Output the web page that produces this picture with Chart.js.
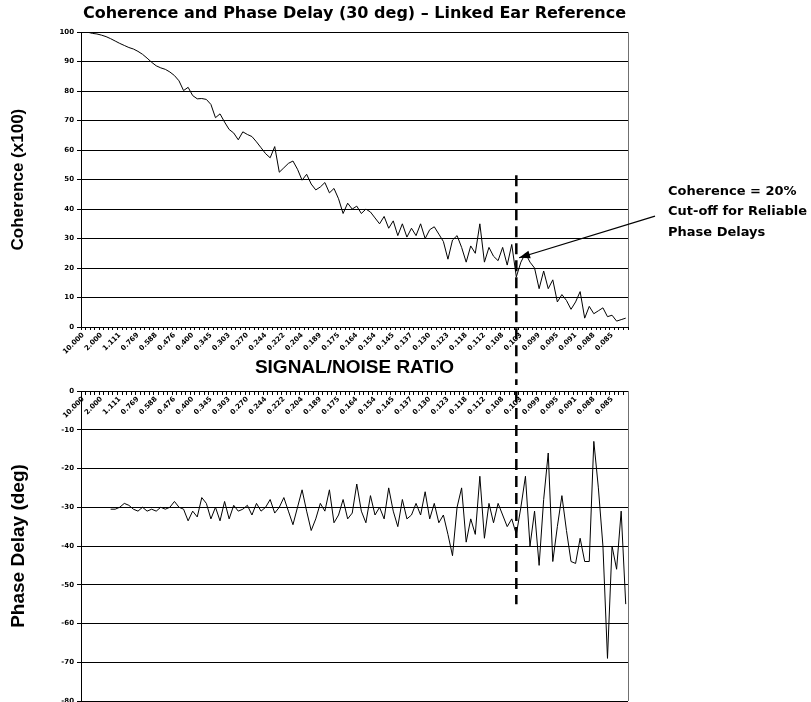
<!DOCTYPE html>
<html>
<head>
<meta charset="utf-8">
<script src="https://cdn.jsdelivr.net/npm/chart.js@4/dist/chart.umd.min.js"></script>
<style>
  html, body { margin: 0; padding: 0; background: #fff; overflow: hidden; width: 811px; height: 702px; }
  #wrap { position: relative; width: 811px; height: 702px; }
  #topBox { position: absolute; left: 0; top: 0; width: 811px; height: 383px; }
  #botBox { position: absolute; left: 0; top: 383px; width: 811px; height: 330px; }
</style>
</head>
<body>
<div id="wrap">
  <div id="topBox"><canvas id="coh"></canvas></div>
  <div id="botBox"><canvas id="phase"></canvas></div>
</div>
<script>
// Signal/noise ratio labels, one every fourth frequency bin
const snrLabels = ['10.000','2.000','1.111','0.769','0.588','0.476','0.400','0.345','0.303','0.270',
  '0.244','0.222','0.204','0.189','0.175','0.164','0.154','0.145','0.137','0.130',
  '0.123','0.118','0.112','0.108','0.103','0.099','0.095','0.091','0.088','0.085'];

// Coherence (x100) per bin
const coherence = [
  100, 100, 99.6, 99.4, 99, 98.5, 97.8, 97, 96.2, 95.5,
  94.8, 94.3, 93.5, 92.5, 91.2, 89.8, 88.6, 87.9, 87.4, 86.5,
  85.3, 83.5, 80.2, 81.3, 78.5, 77.4, 77.5, 77.2, 75.5, 71.0,
  72.3, 69.5, 67.0, 65.8, 63.5, 66.2, 65.3, 64.6, 62.8, 60.8,
  58.8, 57.4, 61.2, 52.5, 54.0, 55.5, 56.3, 53.5, 49.8, 51.8,
  48.5, 46.5, 47.5, 49.0, 45.5, 47.0, 43.5, 38.5, 42.0, 40.0,
  41.0, 38.5, 40.0, 39.0, 37.0, 35.0, 37.5, 33.5, 36.0, 31.0,
  35.0, 30.5, 33.5, 31.0, 35.0, 30.0, 33.0, 34.0, 31.5, 29.0,
  23.0, 29.5, 31.0, 27.0, 22.0, 27.5, 25.0, 35.0, 22.0, 27.0,
  24.0, 22.5, 27.0, 21.0, 28.0, 17.0, 22.0, 25.0, 22.0, 20.0,
  13.0, 19.0, 13.0, 16.0, 8.5, 11.0, 9.0, 6.0, 8.5, 12.0,
  3.0, 7.0, 4.5, 5.5, 6.5, 3.5, 4.0, 2.0, 2.5, 3.0
];

// Phase delay (deg) per bin; the lowest bins carry no estimate
const phaseDelay = [
  null, null, null, null, null, null, -30.5, -30.5, -30, -29,
  -29.5, -30.5, -31, -30, -31, -30.5, -31, -30, -30.5, -30,
  -28.5, -30, -30.5, -33.5, -31, -32.5, -27.5, -29, -33, -30,
  -33.5, -28.5, -33, -29.5, -31, -30.5, -29.5, -32, -29, -31,
  -30, -28, -31.5, -30, -27.5, -31, -34.5, -30, -25.5, -31,
  -36, -33, -29, -31, -25.5, -34, -32, -28, -33, -31.5,
  -24, -31, -34, -27, -32, -30, -33, -25, -31, -35,
  -28, -33, -32, -29, -32, -26, -33, -29, -34, -32,
  -37, -42.5, -30, -25, -39, -33, -37, -22, -38, -29,
  -34, -29, -32, -35, -33, -37, -30, -22, -40, -31,
  -45, -28, -16, -44, -35, -27, -36, -44, -44.5, -38,
  -44, -44, -13, -25, -40, -69, -40, -46, -31, -55
];

// Bin where coherence falls to 20%, and the extent of the marker line
const cutoffIndex = 95;
const cutoffTopCoherence = 51.5;
const cutoffBottomPhase = -55;
const noteLines = ['Coherence = 20%', 'Cut-off for Reliable', 'Phase Delays'];

const categories = coherence.map((_, i) => (i % 4 === 0 ? snrLabels[i / 4] : ''));

const FAMILY = '"Liberation Sans", Arial, sans-serif';
const HEAVY = '"DejaVu Sans", Verdana, sans-serif';
const tinyFont = { family: HEAVY, size: 7, weight: 'bold' };

// Right-hand frame of each plot
const frame = {
  id: 'frame',
  afterDraw(chart) {
    const { ctx, chartArea: a } = chart;
    ctx.save();
    ctx.strokeStyle = '#707070';
    ctx.lineWidth = 1;
    ctx.beginPath();
    ctx.moveTo(a.right + 0.5, a.top);
    ctx.lineTo(a.right + 0.5, a.bottom);
    ctx.stroke();
    ctx.restore();
  }
};

function dashed(ctx, x, y0, y1, offset) {
  ctx.save();
  ctx.strokeStyle = '#000';
  ctx.lineWidth = 2.5;
  ctx.setLineDash([11, 6]);
  ctx.lineDashOffset = offset;
  ctx.beginPath();
  ctx.moveTo(x, y0);
  ctx.lineTo(x, y1);
  ctx.stroke();
  ctx.restore();
}

// Cut-off marker and note on the coherence plot
const cohMarks = {
  id: 'cohMarks',
  afterDraw(chart) {
    const { ctx, chartArea: a, scales: { x, y } } = chart;
    const cx = x.getPixelForValue(cutoffIndex);
    const y0 = y.getPixelForValue(cutoffTopCoherence);
    dashed(ctx, cx, y0, chart.height, 0);

    // note text
    ctx.save();
    ctx.fillStyle = '#000';
    ctx.font = 'bold 13px ' + HEAVY;
    ctx.textBaseline = 'middle';
    ctx.textAlign = 'left';
    const tx = a.right + 40;
    const ty = y.getPixelForValue(46);
    noteLines.forEach((t, i) => ctx.fillText(t, tx, ty + i * 20.5));

    // arrow to the 20% crossing
    const sx = a.right + 27, sy = y.getPixelForValue(37.6);
    const ex = x.getPixelForValue(cutoffIndex + 0.6), ey = y.getPixelForValue(23.5);
    ctx.strokeStyle = '#000';
    ctx.lineWidth = 1.2;
    ctx.beginPath();
    ctx.moveTo(sx, sy);
    ctx.lineTo(ex, ey);
    ctx.stroke();
    const ang = Math.atan2(ey - sy, ex - sx);
    const L = 11, W = 4;
    ctx.beginPath();
    ctx.moveTo(ex, ey);
    ctx.lineTo(ex - L * Math.cos(ang) + W * Math.sin(ang), ey - L * Math.sin(ang) - W * Math.cos(ang));
    ctx.lineTo(ex - L * Math.cos(ang) - W * Math.sin(ang), ey - L * Math.sin(ang) + W * Math.cos(ang));
    ctx.closePath();
    ctx.fill();
    ctx.restore();
  }
};

const phaseMarks = {
  id: 'phaseMarks',
  afterDraw(chart) {
    const { ctx, scales: { x, y } } = chart;
    const cx = x.getPixelForValue(cutoffIndex);
    dashed(ctx, cx, 0, y.getPixelForValue(cutoffBottomPhase), 383 % 17);
  }
};

new Chart(document.getElementById('coh'), {
  type: 'line',
  data: {
    labels: categories,
    datasets: [{
      data: coherence,
      borderColor: '#000',
      borderWidth: 1,
      pointRadius: 0,
      tension: 0,
      fill: false
    }]
  },
  options: {
    responsive: true,
    maintainAspectRatio: false,
    animation: false,
    layout: { padding: { left: 0, right: 183, top: 0, bottom: 0 } },
    plugins: {
      legend: { display: false },
      tooltip: { enabled: false },
      title: {
        display: true,
        fullSize: false,
        text: 'Coherence and Phase Delay (30 deg) \u2013 Linked Ear Reference',
        color: '#000',
        font: { family: HEAVY, size: 16, weight: 'bold' },
        padding: { top: 4, bottom: 9 }
      }
    },
    scales: {
      x: {
        type: 'category',
        offset: true,
        grid: { display: true, drawOnChartArea: false, drawTicks: true, tickLength: 3, color: '#000', offset: true },
        border: { display: true, color: '#000', width: 1 },
        ticks: { autoSkip: false, minRotation: 45, maxRotation: 45, font: tinyFont, color: '#000', padding: 1 },
        title: {
          display: true, text: 'SIGNAL/NOISE RATIO', color: '#000',
          font: { family: FAMILY, size: 19, weight: 'bold' }, padding: { top: 0, bottom: 4 }
        },
        afterFit(s) { s.height = 56; }
      },
      y: {
        min: 0, max: 100,
        ticks: { stepSize: 10, font: tinyFont, color: '#000', padding: 3 },
        grid: { color: '#000', lineWidth: 1, tickLength: 4 },
        border: { display: true, color: '#000', width: 1 },
        title: {
          display: true, text: 'Coherence (x100)', color: '#000',
          font: { family: FAMILY, size: 17, weight: 'bold' }, padding: { top: 8, bottom: 0 }
        },
        afterFit(s) { s.width = 81; }
      }
    }
  },
  plugins: [frame, cohMarks]
});

new Chart(document.getElementById('phase'), {
  type: 'line',
  data: {
    labels: categories,
    datasets: [{
      data: phaseDelay,
      borderColor: '#000',
      borderWidth: 1,
      pointRadius: 0,
      tension: 0,
      fill: false,
      spanGaps: false
    }]
  },
  options: {
    responsive: true,
    maintainAspectRatio: false,
    animation: false,
    layout: { padding: { left: 0, right: 183, top: 8, bottom: 12 } },
    plugins: { legend: { display: false }, tooltip: { enabled: false } },
    scales: {
      x: {
        type: 'category',
        position: { y: 0 },
        offset: true,
        grid: { display: true, drawOnChartArea: false, drawTicks: true, tickLength: 3, color: '#000', offset: true },
        border: { display: true, color: '#000', width: 1 },
        ticks: { autoSkip: false, minRotation: 45, maxRotation: 45, font: tinyFont, color: '#000', padding: 1 },
        afterFit(s) { s.height = 0; }
      },
      y: {
        min: -80, max: 0,
        ticks: { stepSize: 10, font: tinyFont, color: '#000', padding: 3 },
        grid: { color: '#000', lineWidth: 1, tickLength: 4 },
        border: { display: true, color: '#000', width: 1 },
        title: {
          display: true, text: 'Phase Delay (deg)', color: '#000',
          font: { family: FAMILY, size: 19, weight: 'bold' }, padding: { top: 7, bottom: 0 }
        },
        afterFit(s) { s.width = 81; }
      }
    }
  },
  plugins: [frame, phaseMarks]
});
</script>
</body>
</html>
